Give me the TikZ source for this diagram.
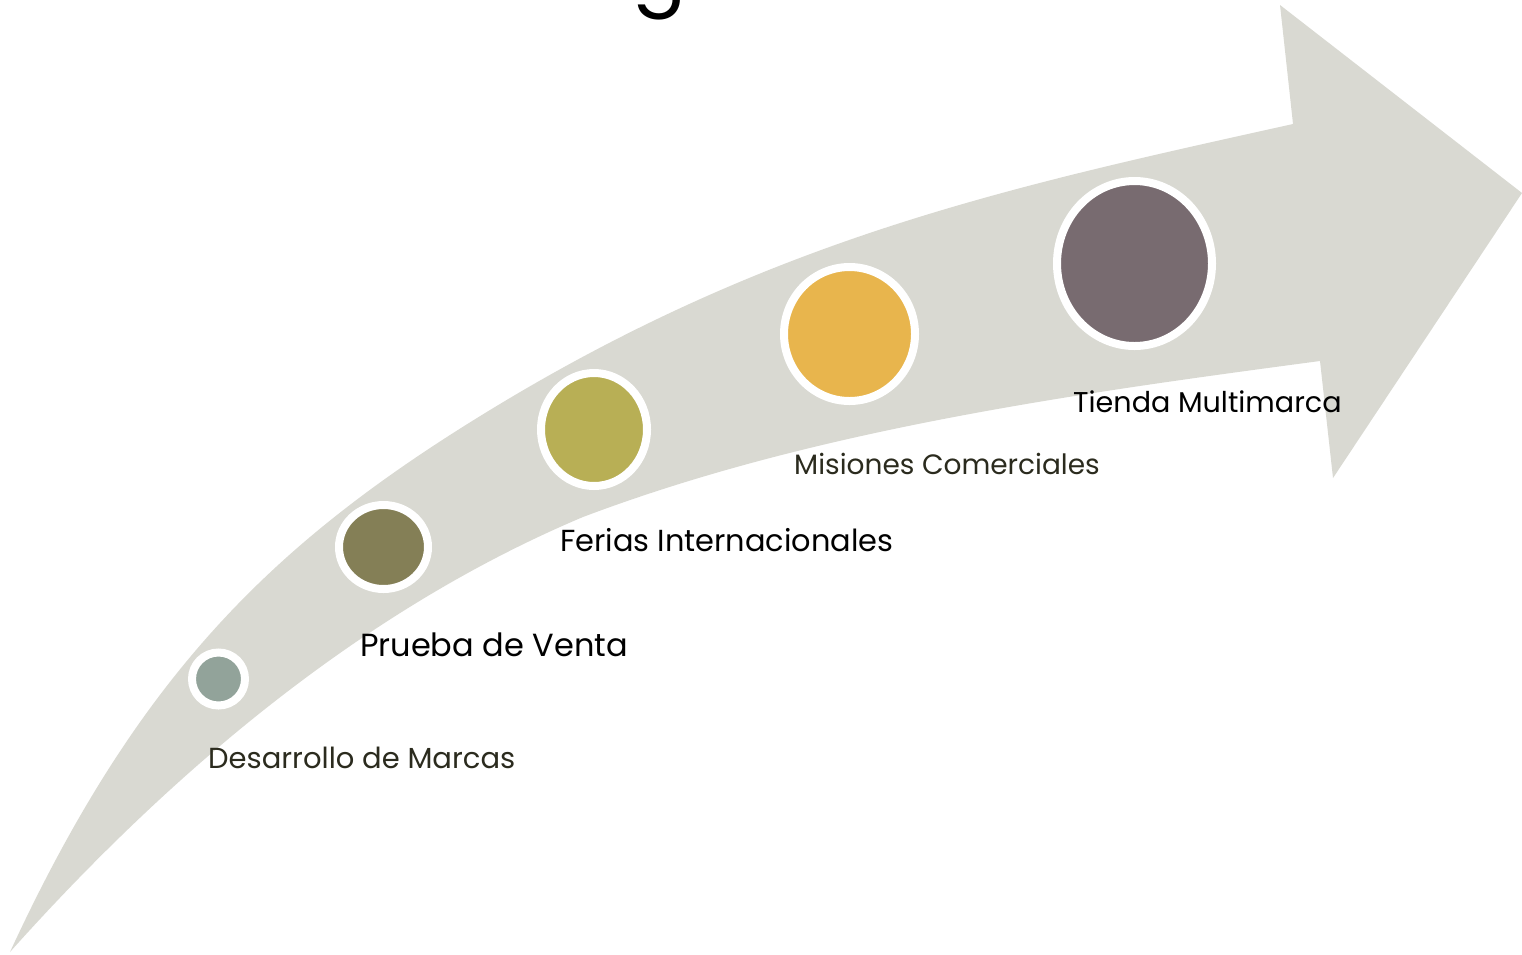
\documentclass[tikz,border=0pt]{standalone}
\usepackage{fontspec}
\setmainfont{Poppins}
\usetikzlibrary{shapes.geometric}
\definecolor{band}{RGB}{217,217,210}
\definecolor{sage}{RGB}{146,163,154}
\definecolor{olive}{RGB}{132,127,86}
\definecolor{mustard}{RGB}{184,175,85}
\definecolor{amber}{RGB}{232,181,77}
\definecolor{mauve}{RGB}{120,107,112}
\definecolor{darktext}{RGB}{43,43,30}

\begin{document}
\begin{tikzpicture}[x=1pt,y=-1pt,
        stage/.style={ellipse, draw=white, line width=8pt, inner sep=0pt},
        lbl/.style={anchor=base west, inner sep=0pt}]
        \useasboundingbox (0,0) rectangle (1522,954);
        % curved arrow
        \fill[band] (10,952) .. controls (132,688) and (260,557) .. (450,435)
            .. controls (753,241) and (1000,189) .. (1293,124)
            -- (1280,5) -- (1522,193) -- (1333,478) -- (1320,361)
            .. controls (1072,394) and (813,430) .. (583,517)
            .. controls (362,610) and (170,773) .. cycle;
        \node[anchor=base, inner sep=0pt, font=\fontsize{80}{90}\selectfont] (title) at (660,-2) {g};
        % stages
        \node[stage, fill=sage, minimum width=53, minimum height=53] (marcas) at (218.5,679) {};
        \node[stage, fill=olive, minimum width=89, minimum height=84] (venta) at (383.5,547) {};
        \node[stage, fill=mustard, minimum width=106, minimum height=113] (ferias) at (594,429.5) {};
        \node[stage, fill=amber, minimum width=131, minimum height=134] (misiones) at (849.5,334) {};
        \node[stage, fill=mauve, minimum width=155, minimum height=165] (tienda) at (1134.5,263.5) {};
        % labels
        \node[lbl, text=darktext, font=\fontsize{29}{34}\selectfont] (marcaslbl) at (208,768) {Desarrollo de Marcas};
        \node[lbl, font=\fontsize{32}{38}\selectfont] (ventalbl) at (360,656) {Prueba de Venta};
        \node[lbl, font=\fontsize{30.4}{36}\selectfont] (feriaslbl) at (560,551) {Ferias Internacionales};
        \node[lbl, text=darktext, font=\fontsize{28}{34}\selectfont] (misioneslbl) at (794,474) {Misiones Comerciales};
        \node[lbl, font=\fontsize{28.6}{34}\selectfont] (tiendalbl) at (1073,412) {Tienda Multimarca};
    \end{tikzpicture}
\end{document}
